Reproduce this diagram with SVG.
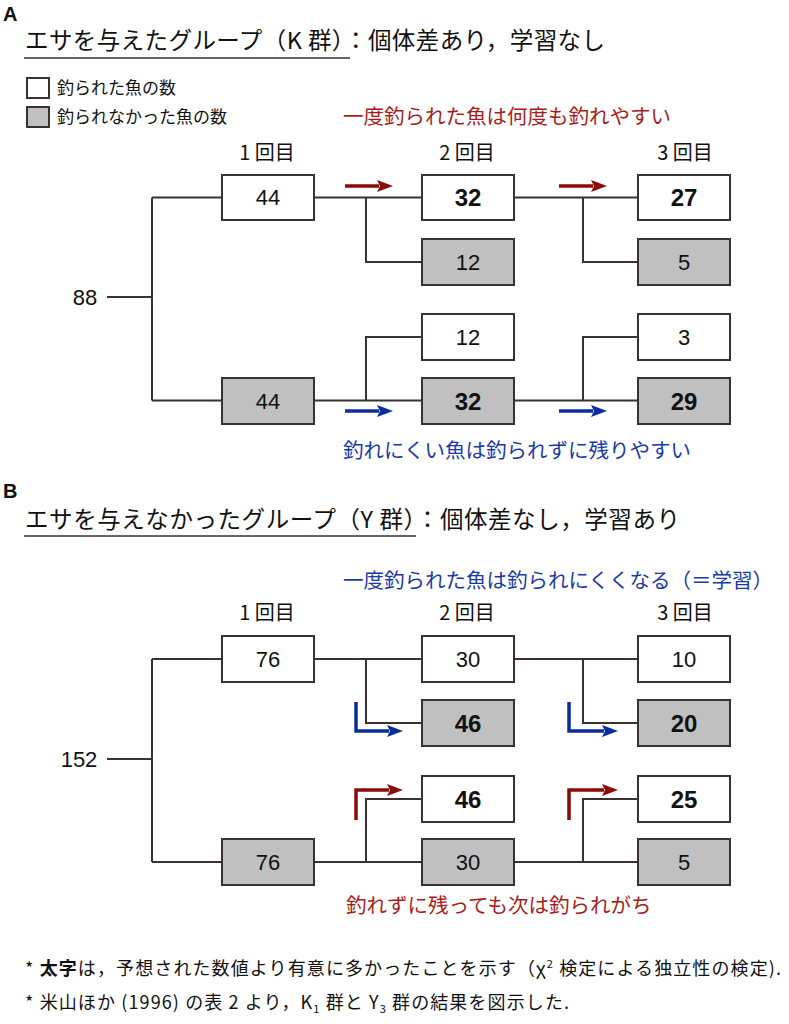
<svg xmlns="http://www.w3.org/2000/svg" width="789" height="1024" viewBox="0 0 789 1024">
<style>
.t{font-family:"Liberation Sans","Noto Sans CJK JP",sans-serif;fill:#111}
.j{font-family:"Noto Sans CJK JP","Liberation Sans",sans-serif;fill:#111}
.ttl{font-size:23.5px}
.lg{font-size:17px}
.hd{font-size:20px;text-anchor:middle}
.num{font-size:22px;text-anchor:middle}
.bn{font-size:24px;font-weight:bold;text-anchor:middle}
.lab{font-size:20.5px}
.red{fill:#a51d1d}
.blue{fill:#1b3aa6}
.fn{font-size:18px}
.bw{fill:#fff;stroke:#3b3131;stroke-width:2}
.bg{fill:#c0c0c0;stroke:#3b3131;stroke-width:2}
.ln{fill:none;stroke:#3b3131;stroke-width:2}
.ar{fill:none;stroke:#8b0a0a;stroke-width:3.5}
.ab{fill:none;stroke:#0b2d9c;stroke-width:3.5}
.ul{stroke:#3b3131;stroke-width:1.5}
</style>
<defs>
<marker id="hr" viewBox="0 0 16 12" refX="2" refY="6" markerWidth="16" markerHeight="12" markerUnits="userSpaceOnUse" orient="auto"><path d="M0,0 L16,6 L0,12 L3,6 z" fill="#8b0a0a"/></marker>
<marker id="hb" viewBox="0 0 16 12" refX="2" refY="6" markerWidth="16" markerHeight="12" markerUnits="userSpaceOnUse" orient="auto"><path d="M0,0 L16,6 L0,12 L3,6 z" fill="#0b2d9c"/></marker>
</defs>
<rect width="789" height="1024" fill="#fff"/>

<!-- Panel A header -->
<text class="t" x="3" y="21" font-size="20" font-weight="bold">A</text>
<text class="j ttl" x="25" y="49" textLength="580" lengthAdjust="spacing">エサを与えたグループ（K 群）：個体差あり，学習なし</text>
<line class="ul" x1="24" y1="58" x2="350" y2="58"/>
<g id="legend">
<rect class="bw" x="27" y="78" width="22" height="20"/>
<text class="j lg" x="57" y="94">釣られた魚の数</text>
<rect class="bg" x="27" y="107" width="22" height="20"/>
<text class="j lg" x="57" y="123">釣られなかった魚の数</text>
</g>
<text class="j lab red" x="343" y="124">一度釣られた魚は何度も釣れやすい</text>
<text class="j hd" x="267" y="160">1 回目</text>
<text class="j hd" x="467" y="160">2 回目</text>
<text class="j hd" x="685" y="160">3 回目</text>

<g id="connectorsA">
<path class="ln" d="M107,297 H152 M152,197.5 V400.5 M152,197.5 H222 M152,400.5 H222"/>
<path class="ln" d="M314,197.5 H422 M366,197.5 V262 H422 M514,197.5 H638 M583,197.5 V262 H638"/>
<path class="ln" d="M314,400.5 H422 M366,400.5 V337 H422 M514,400.5 H638 M583,400.5 V337 H638"/>
<path class="ar" d="M345,186 H379" marker-end="url(#hr)"/>
<path class="ar" d="M559,186 H593" marker-end="url(#hr)"/>
<path class="ab" d="M345,411 H379" marker-end="url(#hb)"/>
<path class="ab" d="M559,411 H593" marker-end="url(#hb)"/>
</g>
<text class="t num" x="85" y="305">88</text>
<g id="A1a"><rect class="bw" x="222" y="175" width="92" height="45"/><text class="t num" x="268" y="205">44</text></g>
<g id="A1b"><rect class="bg" x="222" y="378" width="92" height="46"/><text class="t num" x="268" y="409">44</text></g>
<g id="A2a"><rect class="bw" x="422" y="175" width="92" height="45"/><text class="t bn" x="468" y="206">32</text></g>
<g id="A2b"><rect class="bg" x="422" y="239" width="92" height="46"/><text class="t num" x="468" y="270">12</text></g>
<g id="A2c"><rect class="bw" x="422" y="314" width="92" height="46"/><text class="t num" x="468" y="345">12</text></g>
<g id="A2d"><rect class="bg" x="422" y="378" width="92" height="46"/><text class="t bn" x="468" y="410">32</text></g>
<g id="A3a"><rect class="bw" x="638" y="175" width="92" height="45"/><text class="t bn" x="684" y="206">27</text></g>
<g id="A3b"><rect class="bg" x="638" y="239" width="92" height="46"/><text class="t num" x="684" y="270">5</text></g>
<g id="A3c"><rect class="bw" x="638" y="314" width="92" height="46"/><text class="t num" x="684" y="345">3</text></g>
<g id="A3d"><rect class="bg" x="638" y="378" width="92" height="46"/><text class="t bn" x="684" y="410">29</text></g>
<text class="j lab blue" x="343" y="458">釣れにくい魚は釣られずに残りやすい</text>

<!-- Panel B header -->
<text class="t" x="3" y="498" font-size="20" font-weight="bold">B</text>
<text class="j ttl" x="25" y="528" textLength="655" lengthAdjust="spacing">エサを与えなかったグループ（Y 群）：個体差なし，学習あり</text>
<line class="ul" x1="24" y1="536" x2="416" y2="536"/>
<text class="j lab blue" x="343" y="588">一度釣られた魚は釣られにくくなる（＝学習）</text>
<text class="j hd" x="267" y="620">1 回目</text>
<text class="j hd" x="467" y="620">2 回目</text>
<text class="j hd" x="685" y="620">3 回目</text>

<g id="connectorsB">
<path class="ln" d="M107,759 H152 M152,659 V862 M152,659 H222 M152,862 H222"/>
<path class="ln" d="M314,659 H422 M366,659 V723 H422 M514,659 H638 M583,659 V723 H638"/>
<path class="ln" d="M314,862 H422 M366,862 V799 H422 M514,862 H638 M583,862 V799 H638"/>
<path class="ab" d="M356,702 V731 H389" marker-end="url(#hb)"/>
<path class="ab" d="M569,702 V731 H604" marker-end="url(#hb)"/>
<path class="ar" d="M356,820 V790 H389" marker-end="url(#hr)"/>
<path class="ar" d="M569,820 V790 H604" marker-end="url(#hr)"/>
</g>
<text class="t num" x="79" y="767">152</text>
<g id="B1a"><rect class="bw" x="222" y="636" width="92" height="46"/><text class="t num" x="268" y="667">76</text></g>
<g id="B1b"><rect class="bg" x="222" y="839" width="92" height="46"/><text class="t num" x="268" y="870">76</text></g>
<g id="B2a"><rect class="bw" x="422" y="636" width="92" height="46"/><text class="t num" x="468" y="667">30</text></g>
<g id="B2b"><rect class="bg" x="422" y="700" width="92" height="46"/><text class="t bn" x="468" y="732">46</text></g>
<g id="B2c"><rect class="bw" x="422" y="776" width="92" height="46"/><text class="t bn" x="468" y="808">46</text></g>
<g id="B2d"><rect class="bg" x="422" y="839" width="92" height="46"/><text class="t num" x="468" y="870">30</text></g>
<g id="B3a"><rect class="bw" x="638" y="636" width="92" height="46"/><text class="t num" x="684" y="667">10</text></g>
<g id="B3b"><rect class="bg" x="638" y="700" width="92" height="46"/><text class="t bn" x="684" y="732">20</text></g>
<g id="B3c"><rect class="bw" x="638" y="776" width="92" height="46"/><text class="t bn" x="684" y="808">25</text></g>
<g id="B3d"><rect class="bg" x="638" y="839" width="92" height="46"/><text class="t num" x="684" y="870">5</text></g>
<text class="j lab red" x="346" y="913">釣れずに残っても次は釣られがち</text>

<!-- Footnotes -->
<text class="j fn" x="25" y="975" textLength="756" lengthAdjust="spacing">* <tspan font-weight="bold">太字</tspan>は，予想された数値より有意に多かったことを示す（χ<tspan font-size="11" dy="-7">2</tspan><tspan dy="7"> 検定による独立性の検定).</tspan></text>
<text class="j fn" x="25" y="1009" textLength="544" lengthAdjust="spacing">* 米山ほか (1996) の表 2 より，K<tspan font-size="11" dy="4">1</tspan><tspan dy="-4"> 群と Y</tspan><tspan font-size="11" dy="4">3</tspan><tspan dy="-4"> 群の結果を図示した.</tspan></text>
</svg>
